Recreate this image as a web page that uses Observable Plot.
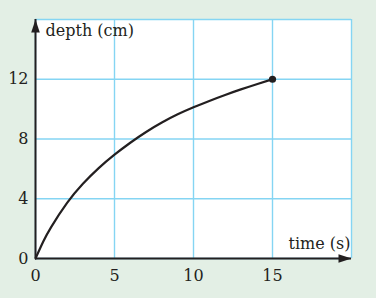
<!DOCTYPE html>
<html><head><meta charset="utf-8">
<script src="https://cdn.jsdelivr.net/npm/d3@7"></script>
<script src="https://cdn.jsdelivr.net/npm/@observablehq/plot@0.6"></script>
<style>
html,body{margin:0;padding:0;background:#e3efe5;}
#chart svg{display:block;}
</style></head><body><div id="chart"></div>
<script>
const time = [0, 0.5, 1, 2, 3, 4, 5, 6, 7, 8, 9, 10, 11, 12, 13, 14, 15];
const depth = [0, 1.15, 2.12, 3.72, 5.0, 6.05, 6.95, 7.75, 8.47, 9.1, 9.65, 10.12, 10.55, 10.95, 11.32, 11.67, 12];
const endPoint = [{t: 15, d: 12}];
const xTicks = [0, 5, 10, 15];
const yTicks = [0, 4, 8, 12];
const xGrid = [0, 5, 10, 15, 20];
const yGrid = [0, 4, 8, 12, 16];
const xLabel = "time (s)";
const yLabel = "depth (cm)";

const data = time.map((t, i) => ({t, d: depth[i]}));

const arrowHead = {
  draw(context) {
    context.moveTo(0, 0);
    context.lineTo(4.3, 13);
    context.lineTo(-4.3, 13);
    context.closePath();
  }
};

const ink = "#231f20";
const gridColor = "#85d5f3";
const font = "DejaVu Serif";
const fs = 16;

const chart = Plot.plot({
  width: 376,
  height: 298,
  marginLeft: 35,
  marginRight: 25,
  marginTop: 19,
  marginBottom: 40,
  x: {domain: [0, 20]},
  y: {domain: [0, 16]},
  style: {background: "transparent", fontFamily: font, fontSize: fs + "px", color: ink},
  marks: [
    Plot.frame({fill: "white", stroke: null}),
    Plot.gridX(xGrid, {stroke: gridColor, strokeOpacity: 1, strokeWidth: 1.4}),
    Plot.gridY(yGrid, {stroke: gridColor, strokeOpacity: 1, strokeWidth: 1.4}),
    Plot.axisX(xTicks, {tickSize: 0, tickPadding: 11, label: null, fill: ink, fontFamily: font, fontSize: fs}),
    Plot.axisY(yTicks, {tickSize: 0, tickPadding: 7, label: null, fill: ink, fontFamily: font, fontSize: fs}),
    Plot.ruleX([0], {stroke: ink, strokeWidth: 2}),
    Plot.ruleY([0], {stroke: ink, strokeWidth: 2}),
    Plot.dot([{x: 0, y: 16}], {x: "x", y: "y", symbol: arrowHead, fill: ink, stroke: null, rotate: 0}),
    Plot.dot([{x: 20, y: 0}], {x: "x", y: "y", symbol: arrowHead, fill: ink, stroke: null, rotate: 90}),
    Plot.line(data, {x: "t", y: "d", stroke: ink, strokeWidth: 2.2, curve: "natural"}),
    Plot.dot(endPoint, {x: "t", y: "d", r: 3.6, fill: ink, stroke: null}),
    Plot.text([yLabel], {x: 0, y: 16, text: d => d, textAnchor: "start", dx: 10, dy: 11, fill: ink, fontFamily: font, fontSize: fs}),
    Plot.text([xLabel], {x: 20, y: 0, text: d => d, textAnchor: "end", dx: -1, dy: -15, fill: ink, fontFamily: font, fontSize: fs})
  ]
});
document.getElementById("chart").appendChild(chart);
</script>
</body></html>
